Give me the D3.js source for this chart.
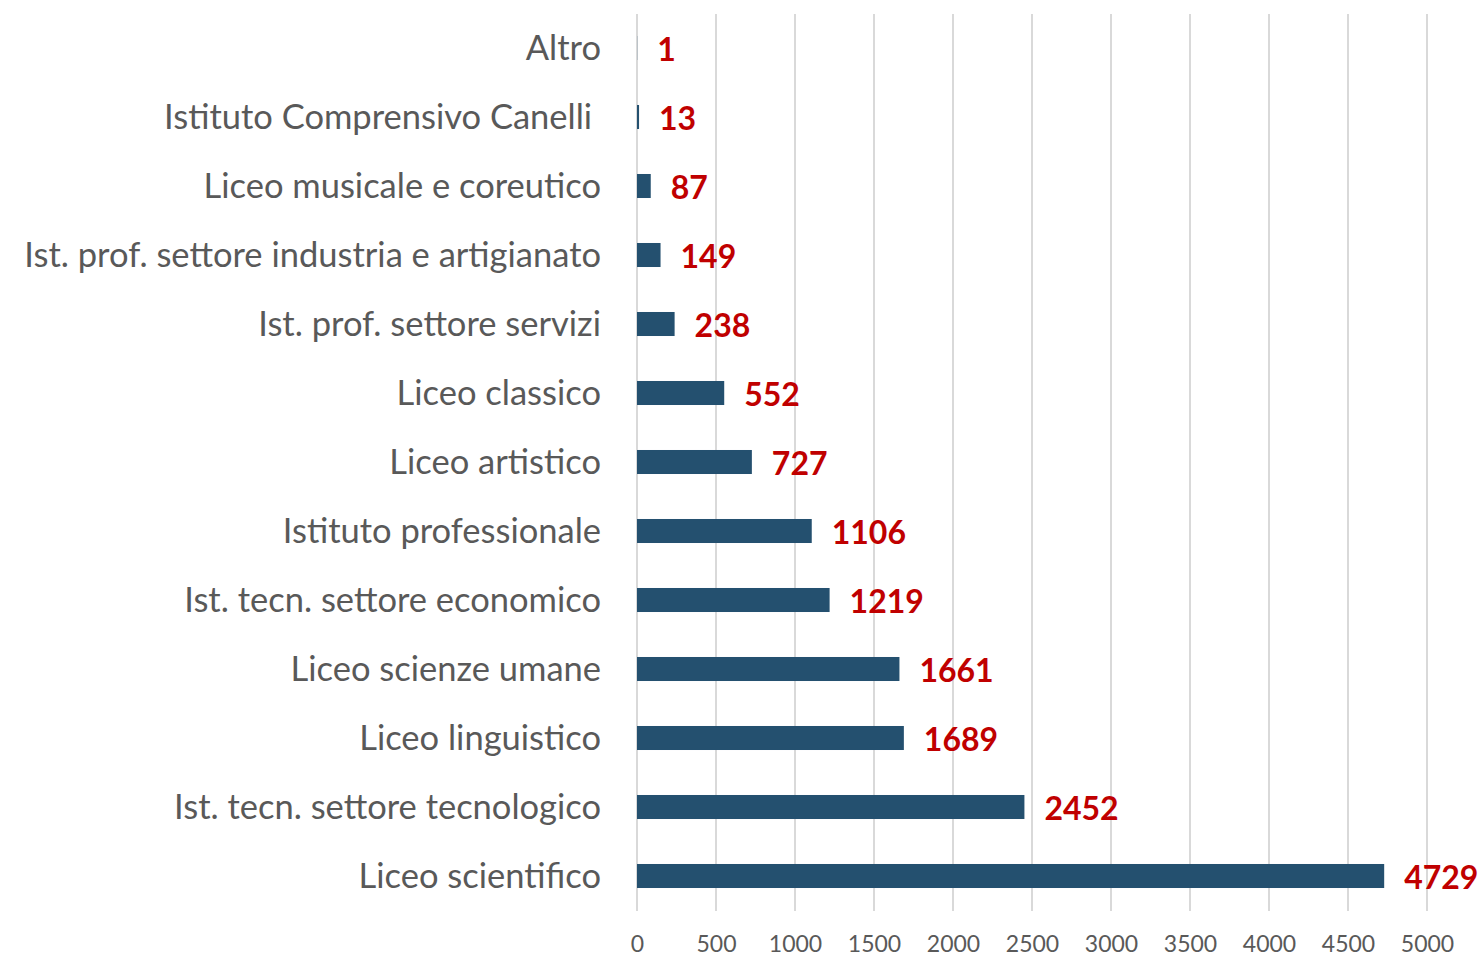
<!DOCTYPE html>
<html><head><meta charset="utf-8">
<script src="https://cdn.jsdelivr.net/npm/d3@7"></script>
<style>
html,body{margin:0;padding:0;background:#fff;}
svg{display:block;}
</style></head>
<body>
<svg id="chart" width="1479" height="956"></svg>
<script>
const categories = [
  "Altro",
  "Istituto Comprensivo Canelli ",
  "Liceo musicale e coreutico",
  "Ist. prof. settore industria e artigianato",
  "Ist. prof. settore servizi",
  "Liceo classico",
  "Liceo artistico",
  "Istituto professionale",
  "Ist. tecn. settore economico",
  "Liceo scienze umane",
  "Liceo linguistico",
  "Ist. tecn. settore tecnologico",
  "Liceo scientifico"
];
const values = [1, 13, 87, 149, 238, 552, 727, 1106, 1219, 1661, 1689, 2452, 4729];
const tickValues = [0, 500, 1000, 1500, 2000, 2500, 3000, 3500, 4000, 4500, 5000];

const data = categories.map((c, i) => ({cat: c, val: values[i]}));
const svg = d3.select("#chart");

const x = d3.scaleLinear().domain([0, 5000]).range([637, 1427]);
const y = d3.scaleBand().domain(categories).range([13.5, 910.5])
  .paddingInner(0.652).paddingOuter(0.326);

// gridlines
svg.append("g").selectAll("line").data(tickValues).join("line")
  .attr("x1", d => x(d)).attr("x2", d => x(d))
  .attr("y1", 14).attr("y2", 911)
  .attr("stroke", "#d9d9d9").attr("stroke-width", 2);

// x axis tick labels
const xAxis = d3.axisBottom(x).tickValues(tickValues).tickSize(0).tickPadding(0).tickFormat(d3.format("d"));
const gx = svg.append("g").attr("transform", "translate(0,936)").call(xAxis);
gx.select(".domain").remove();
gx.selectAll("text").attr("font-family", "Lato, sans-serif").attr("font-size", 23)
  .attr("fill", "#595959").attr("dy", "0.71em");

// category labels
const yAxis = d3.axisLeft(y).tickSize(0).tickPadding(0);
const gy = svg.append("g").attr("transform", "translate(601,0)").call(yAxis);
gy.select(".domain").remove();
gy.selectAll("text").attr("font-family", "Lato, sans-serif").attr("font-size", 34.5)
  .attr("fill", "#595959").attr("dy", "0.36em").style("white-space", "pre");

// bars
svg.append("g").selectAll("rect").data(data).join("rect")
  .attr("x", x(0))
  .attr("y", d => y(d.cat))
  .attr("width", d => Math.max(0, x(d.val) - x(0)))
  .attr("height", y.bandwidth())
  .attr("fill", "#24506f");

// value labels
svg.append("g").selectAll("text").data(data).join("text")
  .attr("x", d => x(d.val) + 20)
  .attr("y", d => y(d.cat) + y.bandwidth() / 2 + 1)
  .attr("dy", "0.36em")
  .attr("font-family", "Lato, sans-serif").attr("font-weight", "bold")
  .attr("font-size", 32).attr("fill", "#c00000")
  .text(d => d.val);
</script>
</body></html>
